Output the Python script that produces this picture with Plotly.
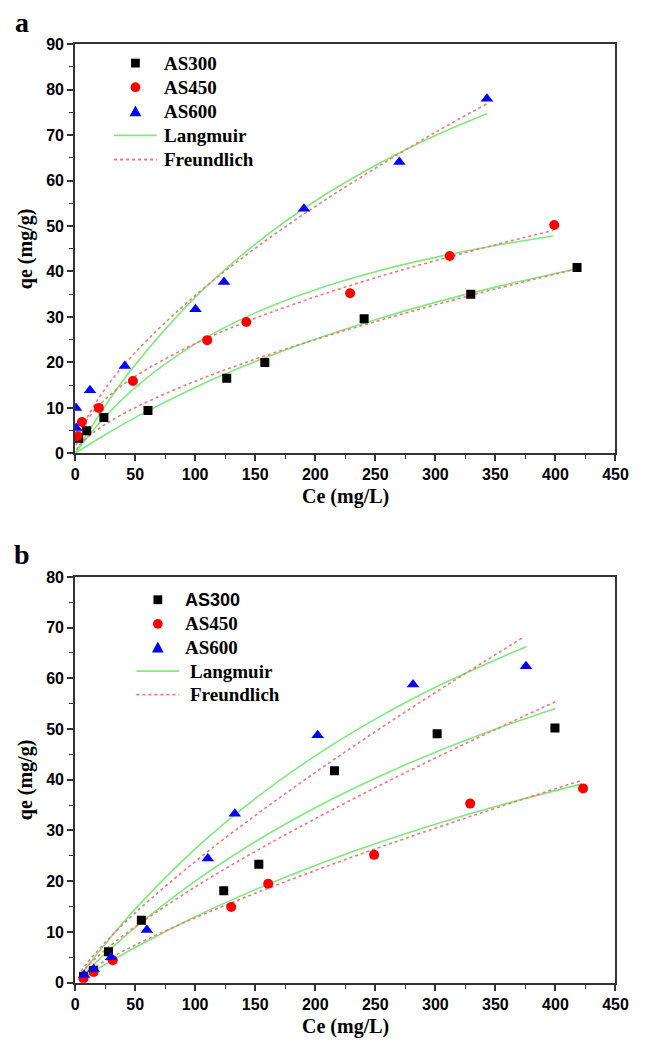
import plotly.graph_objects as go

W, H = 646, 1049

# ---------------- panel a : measured isotherm points ----------------
a_as300_ce = [3, 9.7, 24, 60.7, 126.3, 158, 240.7, 329.5, 418]
a_as300_qe = [3.3, 5.0, 7.9, 9.45, 16.5, 20.0, 29.6, 35.0, 40.9]
a_as450_ce = [2, 5.7, 19.8, 48.2, 110, 142.6, 229, 312, 399]
a_as450_qe = [3.8, 6.9, 10.0, 15.9, 24.9, 28.9, 35.2, 43.4, 50.2]
a_as600_ce = [0.8, 1.0, 12.4, 41.4, 100.3, 124, 190.6, 270, 343]
a_as600_qe = [10.0, 5.6, 13.9, 19.2, 31.7, 37.7, 53.8, 64.1, 78.0]

# panel a : fitted model curves
a_lang300_x = [0, 25, 50, 100, 150, 200, 250, 300, 350, 418]
a_lang300_y = [0, 4.10, 7.86, 14.5, 20.18, 25.1, 29.4, 33.2, 36.56, 40.58]
a_freu300_x = [1, 2.5, 5, 10, 25, 50, 100, 150, 200, 250, 300, 350, 418]
a_freu300_y = [0.77, 1.40, 2.21, 3.49, 6.37, 10.06, 15.86, 20.71, 25.02, 28.98, 32.66, 36.15, 40.6]
a_lang450_x = [0, 10, 25, 50, 100, 150, 200, 250, 300, 350, 398]
a_lang450_y = [0, 3.46, 8.05, 14.48, 24.07, 30.9, 36.0, 39.96, 43.1, 45.7, 47.8]
a_freu450_x = [1, 2.5, 5, 10, 25, 50, 100, 150, 200, 250, 300, 350, 398]
a_freu450_y = [2.28, 3.65, 5.20, 7.42, 11.87, 16.92, 24.14, 29.71, 34.43, 38.6, 42.39, 45.87, 49.0]
a_lang600_x = [0, 25, 50, 100, 150, 200, 250, 300, 343]
a_lang600_y = [0, 10.43, 19.46, 34.3, 46.0, 55.5, 63.3, 69.9, 74.7]
a_freu600_x = [1, 2.5, 5, 10, 25, 50, 100, 150, 200, 250, 300, 343]
a_freu600_y = [1.77, 3.20, 5.01, 7.84, 14.18, 22.18, 34.71, 45.1, 54.3, 62.7, 70.6, 76.9]

# ---------------- panel b : measured isotherm points ----------------
b_as300_ce = [7, 15.2, 27.8, 55.2, 123.8, 153, 216, 301.5, 399.6]
b_as300_qe = [1.2, 2.4, 6.1, 12.3, 18.1, 23.35, 41.8, 49.1, 50.2]
b_as450_ce = [7, 15.5, 31.4, 130, 160.8, 249, 329, 423]
b_as450_qe = [0.8, 2.1, 4.4, 14.9, 19.5, 25.2, 35.3, 38.3]
b_as600_ce = [7.5, 15.5, 30, 59.8, 110.5, 133, 202, 281.4, 375.5]
b_as600_qe = [1.5, 2.7, 5.0, 10.4, 24.5, 33.3, 48.8, 58.8, 62.4]

# panel b : fitted model curves
b_lang300_x = [5, 10, 25, 50, 100, 150, 200, 250, 300, 350, 400]
b_lang300_y = [1.18, 2.34, 5.68, 10.87, 20.0, 27.78, 34.48, 40.3, 45.45, 49.98, 54.05]
b_freu300_x = [5, 10, 25, 50, 100, 150, 200, 250, 300, 350, 400]
b_freu300_y = [1.84, 3.16, 6.43, 11.02, 18.87, 25.87, 32.33, 38.46, 44.3, 49.93, 55.4]
b_lang450_x = [5, 10, 25, 50, 100, 150, 200, 250, 300, 350, 422]
b_lang450_y = [0.74, 1.46, 3.58, 6.92, 12.98, 18.34, 23.11, 27.38, 31.23, 34.72, 39.19]
b_freu450_x = [5, 10, 25, 50, 100, 150, 200, 250, 300, 350, 422]
b_freu450_y = [1.20, 2.07, 4.28, 7.40, 12.79, 17.62, 22.11, 26.37, 30.46, 34.41, 39.9]
b_lang600_x = [5, 10, 25, 50, 100, 150, 200, 250, 300, 376]
b_lang600_y = [1.59, 3.15, 7.62, 14.49, 26.38, 36.3, 44.73, 51.96, 58.24, 66.3]
b_freu600_x = [5, 10, 25, 50, 100, 150, 200, 250, 300, 374]
b_freu600_y = [2.20, 3.82, 7.92, 13.75, 23.88, 32.96, 41.45, 49.49, 57.22, 68.2]

x_ticks = [0, 50, 100, 150, 200, 250, 300, 350, 400, 450]
legend_labels = ["AS300", "AS450", "AS600", "Langmuir", "Freundlich"]

GREEN = "rgb(125,235,125)"
PINK = "rgb(255,115,115)"
SANS = "Liberation Sans"
SERIF = "Liberation Serif"


def px_x(p):
    return p / W


def px_y(p):
    return 1 - p / H


fig = go.Figure()


def add_panel(xa, ya, pts, lang, freu):
    # model curves first so the markers sit on top
    for xs, ys in lang:
        fig.add_trace(go.Scatter(
            x=xs, y=ys, mode="lines", xaxis=xa, yaxis=ya, showlegend=False,
            line=dict(color=GREEN, width=1.6, shape="spline"), name="Langmuir"))
    for xs, ys in freu:
        fig.add_trace(go.Scatter(
            x=xs, y=ys, mode="lines", xaxis=xa, yaxis=ya, showlegend=False,
            line=dict(color=PINK, width=1.6, dash="dot", shape="spline"), name="Freundlich"))
    styles = [("square", "black", 9), ("circle", "red", 10), ("triangle-up", "blue", 11)]
    for (xs, ys), (sym, col, sz), nm in zip(pts, styles, legend_labels):
        fig.add_trace(go.Scatter(
            x=xs, y=ys, mode="markers", xaxis=xa, yaxis=ya, showlegend=False,
            marker=dict(symbol=sym, color=col, size=sz, line=dict(width=0)), name=nm))


add_panel("x", "y",
          [(a_as300_ce, a_as300_qe), (a_as450_ce, a_as450_qe), (a_as600_ce, a_as600_qe)],
          [(a_lang300_x, a_lang300_y), (a_lang450_x, a_lang450_y), (a_lang600_x, a_lang600_y)],
          [(a_freu300_x, a_freu300_y), (a_freu450_x, a_freu450_y), (a_freu600_x, a_freu600_y)])
add_panel("x2", "y2",
          [(b_as300_ce, b_as300_qe), (b_as450_ce, b_as450_qe), (b_as600_ce, b_as600_qe)],
          [(b_lang300_x, b_lang300_y), (b_lang450_x, b_lang450_y), (b_lang600_x, b_lang600_y)],
          [(b_freu300_x, b_freu300_y), (b_freu450_x, b_freu450_y), (b_freu600_x, b_freu600_y)])

x_dom = [px_x(73), px_x(628)]
a_dom = [px_y(452.7), px_y(36.7)]
b_dom = [px_y(990.7), px_y(578.3)]

tickfont = dict(family=SANS, size=16, color="black", weight="bold")


def xaxis(dom_anchor):
    return dict(domain=x_dom, range=[0, 450], tickvals=x_ticks, anchor=dom_anchor,
                showgrid=False, zeroline=False, showline=True, linecolor="#333",
                linewidth=1.8, mirror=True, ticks="outside", ticklen=6, tickwidth=1.5,
                tickcolor="#333", tickfont=tickfont,
                minor=dict(dtick=25, ticks="outside", ticklen=4, tickwidth=1.3,
                           tickcolor="#333", showgrid=False))


def yaxis(dom, top, dom_anchor):
    return dict(domain=dom, range=[0, top], dtick=10, anchor=dom_anchor,
                showgrid=False, zeroline=False, showline=True, linecolor="#333",
                linewidth=1.8, mirror=True, ticks="outside", ticklen=6, tickwidth=1.5,
                tickcolor="#333", tickfont=tickfont,
                minor=dict(dtick=5, ticks="outside", ticklen=4, tickwidth=1.3,
                           tickcolor="#333", showgrid=False))


title_font = dict(family=SERIF, size=20, color="black", weight="bold")
legend_font = dict(family=SERIF, size=19, color="black", weight="bold")

annotations = []
shapes = []

for y_axis_px, y_center_px in [(497, 244.7), (1035, 784.5)]:
    annotations.append(dict(text="Ce (mg/L)", x=px_x(351), y=px_y(y_axis_px),
                            xref="paper", yref="paper", showarrow=False,
                            xanchor="center", yanchor="middle", font=title_font))
    annotations.append(dict(text="qe (mg/g)", x=px_x(22), y=px_y(y_center_px),
                            xref="paper", yref="paper", showarrow=False, textangle=-90,
                            xanchor="center", yanchor="middle", font=title_font))
for letter, ypx in [("a", 15), ("b", 556)]:
    annotations.append(dict(text=letter, x=px_x(18), y=px_y(ypx), xref="paper", yref="paper",
                            showarrow=False, xanchor="center", yanchor="middle",
                            font=dict(family=SERIF, size=28, color="black", weight="bold")))


def legend_block(cx, text_x, rows, first_font):
    """Key: three marker glyphs, two line samples, and their labels."""
    half = 22
    ys = [px_y(r) for r in rows]
    # square
    shapes.append(dict(type="rect", xref="paper", yref="paper",
                       x0=px_x(cx - 4.5), x1=px_x(cx + 4.5),
                       y0=px_y(rows[0] + 4.5), y1=px_y(rows[0] - 4.5),
                       fillcolor="black", line=dict(width=0)))
    # circle
    shapes.append(dict(type="circle", xref="paper", yref="paper",
                       x0=px_x(cx - 5), x1=px_x(cx + 5),
                       y0=px_y(rows[1] + 5), y1=px_y(rows[1] - 5),
                       fillcolor="red", line=dict(width=0)))
    # triangle
    tx0, tx1, tm = px_x(cx - 6), px_x(cx + 6), px_x(cx)
    ty0, ty1 = px_y(rows[2] + 5), px_y(rows[2] - 6)
    shapes.append(dict(type="path", xref="paper", yref="paper",
                       path=f"M {tx0} {ty0} L {tx1} {ty0} L {tm} {ty1} Z",
                       fillcolor="blue", line=dict(width=0)))
    shapes.append(dict(type="line", xref="paper", yref="paper",
                       x0=px_x(cx - half), x1=px_x(cx + half), y0=ys[3], y1=ys[3],
                       line=dict(color=GREEN, width=1.8)))
    shapes.append(dict(type="line", xref="paper", yref="paper",
                       x0=px_x(cx - half), x1=px_x(cx + half), y0=ys[4], y1=ys[4],
                       line=dict(color=PINK, width=1.8, dash="dot")))
    for i, (lab, yy) in enumerate(zip(legend_labels, ys)):
        annotations.append(dict(text=lab, x=px_x(text_x[i]), y=yy, xref="paper", yref="paper",
                                showarrow=False, xanchor="left", yanchor="middle",
                                font=first_font if i == 0 else legend_font))


legend_block(135, [162, 162, 162, 162, 162], [56, 80.5, 105, 129.5, 154], legend_font)
legend_block(158, [184, 184, 184, 189, 189], [601.5, 626, 650, 674, 698],
             dict(family=SANS, size=18, color="black", weight="bold"))

fig.update_layout(
    width=W, height=H, margin=dict(l=0, r=0, t=0, b=0),
    paper_bgcolor="white", plot_bgcolor="white", showlegend=False,
    xaxis=xaxis("y"), yaxis=yaxis(a_dom, 90, "x"),
    xaxis2=xaxis("y2"), yaxis2=yaxis(b_dom, 80, "x2"),
    annotations=annotations, shapes=shapes,
)

fig.write_html("out.html")
